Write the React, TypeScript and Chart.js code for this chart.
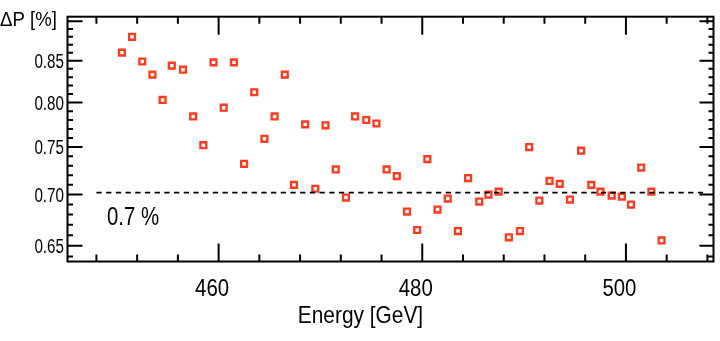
import { useEffect, useRef } from 'react';
import { Chart, registerables } from 'chart.js';

Chart.register(...registerables);

// ---- data ----
const energy = [
  450.5, 451.5, 452.5, 453.5, 454.5, 455.4, 456.5, 457.5, 458.5, 459.5,
  460.5, 461.5, 462.5, 463.5, 464.5, 465.5, 466.5, 467.4, 468.5, 469.5,
  470.5, 471.5, 472.5, 473.4, 474.5, 475.5, 476.5, 477.5, 478.5, 479.5,
  480.5, 481.5, 482.5, 483.5, 484.5, 485.6, 486.5, 487.5, 488.5, 489.6,
  490.5, 491.5, 492.5, 493.5, 494.5, 495.6, 496.6, 497.5, 498.6, 499.6,
  500.5, 501.5, 502.5, 503.5,
];
const deltaP = [
  0.860, 0.880, 0.849, 0.833, 0.803, 0.844, 0.839, 0.784, 0.752, 0.848,
  0.794, 0.848, 0.732, 0.812, 0.759, 0.784, 0.833, 0.710, 0.775, 0.706,
  0.774, 0.726, 0.697, 0.784, 0.780, 0.776, 0.726, 0.719, 0.683, 0.665,
  0.737, 0.685, 0.696, 0.664, 0.717, 0.693, 0.700, 0.703, 0.658, 0.664,
  0.750, 0.694, 0.714, 0.711, 0.695, 0.746, 0.710, 0.703, 0.699, 0.698,
  0.690, 0.728, 0.703, 0.655,
];
const refLineX = [448, 508];
const refLineY = [0.702, 0.702];
const refLabel = '0.7 %';

const xRange = [445.16, 508.6];
const yRange = [0.6353, 0.906];
const xMajorTicks = [460, 480, 500];
const xMinorTicks = [448, 452, 456, 464, 468, 472, 476, 484, 488, 492, 496, 504, 508];
const yLabelTicks = [0.65, 0.70, 0.75, 0.80, 0.85];
const yMajorTicks = [0.65, 0.70, 0.75, 0.80, 0.85, 0.90];
const yMinorTicks = [
  0.64, 0.66, 0.67, 0.68, 0.69, 0.71, 0.72, 0.73, 0.74, 0.76, 0.77, 0.78,
  0.79, 0.81, 0.82, 0.83, 0.84, 0.86, 0.87, 0.88, 0.89,
];
const xTitle = 'Energy [GeV]';
const yTitle = 'ΔP [%]';

const FONT = "'Liberation Sans', Arial, Helvetica, sans-serif";
const RED = 'rgb(255,59,31)';

// draw horizontally condensed text (the reference uses a narrow sans face)
function condensed(
  ctx: CanvasRenderingContext2D,
  text: string,
  x: number,
  y: number,
  size: number,
  sx: number,
  align: CanvasTextAlign,
) {
  ctx.save();
  ctx.font = `${size}px ${FONT}`;
  ctx.textAlign = align;
  ctx.textBaseline = 'alphabetic';
  ctx.translate(x, y);
  ctx.scale(sx, 1);
  ctx.fillText(text, 0, 0);
  ctx.restore();
}

const framePlugin = {
  id: 'frameTicks',
  afterDraw(chart: any) {
    const { ctx, chartArea: a, scales } = chart;
    const xs = scales.x;
    const ys = scales.y;
    ctx.save();
    ctx.strokeStyle = '#000';
    ctx.lineWidth = 2;
    ctx.lineCap = 'butt';
    ctx.strokeRect(a.left, a.top, a.right - a.left, a.bottom - a.top);
    ctx.beginPath();
    const vt = (v: number, len: number) => {
      const px = xs.getPixelForValue(v);
      ctx.moveTo(px, a.bottom);
      ctx.lineTo(px, a.bottom - len);
      ctx.moveTo(px, a.top);
      ctx.lineTo(px, a.top + len);
    };
    const ht = (v: number, lenL: number, lenR: number) => {
      const py = ys.getPixelForValue(v);
      ctx.moveTo(a.left, py);
      ctx.lineTo(a.left + lenL, py);
      ctx.moveTo(a.right, py);
      ctx.lineTo(a.right - lenR, py);
    };
    xMajorTicks.forEach((v) => vt(v, 18));
    xMinorTicks.forEach((v) => vt(v, 7));
    yMajorTicks.forEach((v) => ht(v, 15, 14));
    yMinorTicks.forEach((v) => ht(v, 5.5, 5));
    ctx.stroke();

    ctx.fillStyle = '#000';
    // y tick labels
    yLabelTicks.forEach((v) => {
      condensed(ctx, v.toFixed(2), a.left - 3.5, ys.getPixelForValue(v) + 7, 20, 0.76, 'right');
    });
    // x tick labels
    xMajorTicks.forEach((v) => {
      condensed(ctx, String(v), xs.getPixelForValue(v) - 6.5, 295.7, 24, 0.85, 'center');
    });
    // axis titles
    condensed(ctx, xTitle, (a.left + a.right) / 2 - 30, 323.3, 24, 0.87, 'center');
    condensed(ctx, yTitle, 0, 26, 20, 0.93, 'left');
    // reference-line label
    condensed(ctx, refLabel, 107, 225, 26.5, 0.77, 'left');
    ctx.restore();
  },
};

export default function App() {
  const ref = useRef<HTMLCanvasElement | null>(null);
  useEffect(() => {
    document.body.style.margin = '0';
    const canvas = ref.current;
    if (!canvas) return;
    const chart = new Chart(canvas, {
      type: 'scatter',
      data: {
        datasets: [
          {
            data: refLineX.map((x, i) => ({ x, y: refLineY[i] })),
            showLine: true,
            borderColor: '#000',
            borderWidth: 1.8,
            borderDash: [5.3, 4.4],
            pointRadius: 0,
            fill: false,
          } as any,
          {
            data: energy.map((x, i) => ({ x, y: deltaP[i] })),
            pointStyle: 'rect',
            pointRadius: 4.1,
            pointHoverRadius: 4.1,
            pointBorderWidth: 2.4,
            borderColor: RED,
            pointBorderColor: RED,
            pointBackgroundColor: '#fff',
            backgroundColor: '#fff',
          } as any,
        ],
      },
      options: {
        responsive: false,
        animation: false,
        events: [],
        layout: { padding: { top: 16.7, right: 3, left: 0, bottom: 0 } },
        plugins: { legend: { display: false }, tooltip: { enabled: false } },
        scales: {
          x: {
            type: 'linear',
            min: xRange[0],
            max: xRange[1],
            afterFit: (s: any) => { s.height = 79.5; },
            afterBuildTicks: (s: any) => { s.ticks = xMajorTicks.map((v) => ({ value: v })); },
            grid: { display: false, drawTicks: false },
            border: { display: false },
            ticks: { display: false },
            title: { display: false },
          },
          y: {
            type: 'logarithmic',
            min: yRange[0],
            max: yRange[1],
            afterFit: (s: any) => { s.width = 67.5; },
            afterBuildTicks: (s: any) => { s.ticks = yLabelTicks.map((v) => ({ value: v })); },
            grid: { display: false, drawTicks: false },
            border: { display: false },
            ticks: { display: false },
          },
        },
      } as any,
      plugins: [framePlugin],
    });
    return () => chart.destroy();
  }, []);
  return (
    <div style={{ width: 720, height: 341, background: '#fff' }}>
      <canvas ref={ref} width={720} height={341} style={{ display: 'block', width: 720, height: 341 }} />
    </div>
  );
}
